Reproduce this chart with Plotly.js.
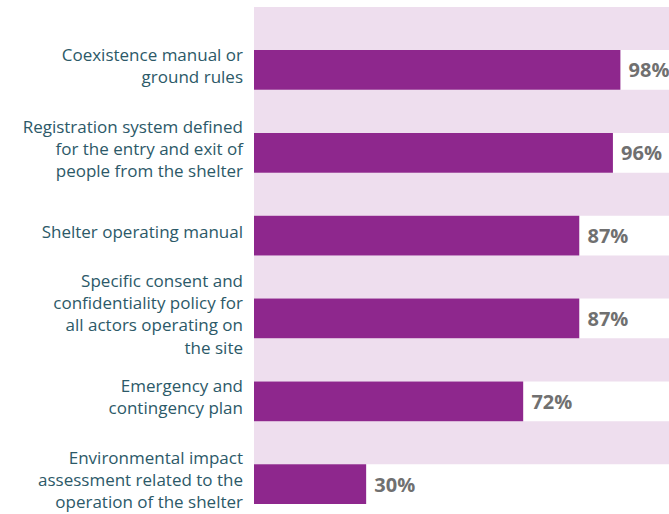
<!DOCTYPE html>
<html>
<head>
<meta charset="utf-8">
<script src="https://cdn.plot.ly/plotly-3.0.1.min.js"></script>
<style>html,body{margin:0;padding:0;background:#fff;}#chart{width:669px;height:514px;}</style>
</head>
<body>
<div id="chart"></div>
<script>
const categories = [
  "Coexistence manual or<br>ground rules",
  "Registration system defined<br>for the entry and exit of<br>people from the shelter",
  "Shelter operating manual",
  "Specific consent and<br>confidentiality policy for<br>all actors operating on<br>the site",
  "Emergency and<br>contingency plan",
  "Environmental impact<br>assessment related to the<br>operation of the shelter"
];
const values = [98, 96, 87, 87, 72, 30];
const axisMax = 111;
const background = categories.map(() => axisMax);

const traces = [
  {
    type: 'bar', orientation: 'h',
    y: categories, x: background,
    width: 0.52, offset: -0.76,
    marker: {color: '#EEDEEE'},
    hoverinfo: 'skip', showlegend: false
  },
  {
    type: 'bar', orientation: 'h',
    y: categories, x: values,
    width: 0.48, offset: -0.24,
    marker: {color: '#8E278D'},
    text: values.map(v => ' ' + v + '%'),
    texttemplate: '%{text}',
    textposition: 'outside',
    cliponaxis: false,
    constraintext: 'none',
    textfont: {family: 'Open Sans', size: 20, color: '#707070', weight: 'bold'},
    showlegend: false
  }
];

const layout = {
  width: 669, height: 514,
  margin: {l: 254, r: 0, t: 7, b: 10},
  paper_bgcolor: '#ffffff', plot_bgcolor: '#ffffff',
  barmode: 'overlay',
  font: {family: 'Open Sans'},
  xaxis: {range: [0, axisMax], visible: false, fixedrange: true},
  yaxis: {
    type: 'category',
    range: [5.24, -0.76],
    showgrid: false, zeroline: false, showline: false,
    ticks: '', ticklabelstandoff: 10, ticklabelshift: 4,
    tickfont: {family: 'Open Sans', size: 17, color: '#2C5968'}
  },
  showlegend: false
};

Plotly.newPlot('chart', traces, layout, {displayModeBar: false, staticPlot: true});
</script>
</body>
</html>
